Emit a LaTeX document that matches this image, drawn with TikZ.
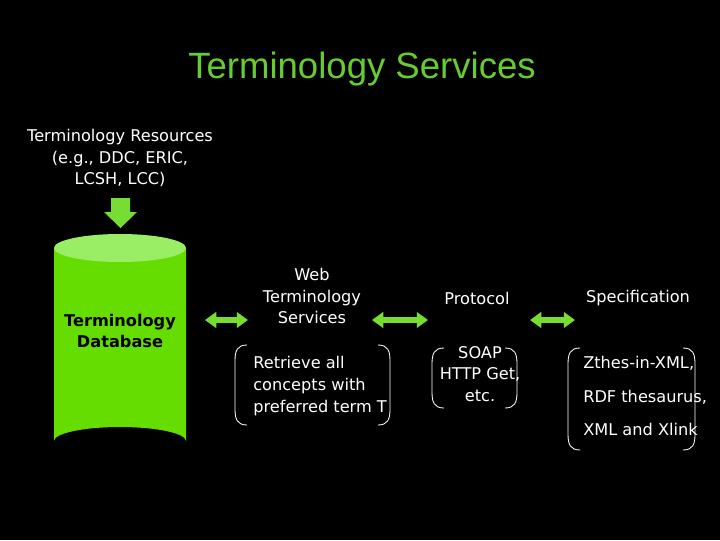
\documentclass[tikz,border=0pt]{standalone}
\usepackage{fontspec}
\setmainfont{DejaVu Sans}
\newfontfamily\titlefont{Liberation Sans}
\usetikzlibrary{arrows.meta}
\definecolor{tgreen}{HTML}{66CC33}
\definecolor{dbgreen}{HTML}{66DD00}
\definecolor{dbtop}{HTML}{99EE66}
\definecolor{arrgreen}{HTML}{77DD33}
\tikzset{
  txt/.style={text=white, font=\fontsize{11.5}{15.5}\selectfont, align=center, inner sep=0pt},
  dbl/.style={{Triangle[length=8pt,width=11pt]}-{Triangle[length=8pt,width=11pt]}, arrgreen, line width=4pt},
  brk/.style={white, line width=0.6pt}
}
\newcommand{\bracketbox}[4]{% x1,y1,x2,y2
  \draw [brk] (#1+12,#2) .. controls (#1+2,#2) and (#1,#2+6) .. (#1,#2+16) -- (#1,#4-16) .. controls (#1,#4-6) and (#1+2,#4) .. (#1+12,#4);
  \draw [brk] (#3-12,#2) .. controls (#3-2,#2) and (#3,#2+6) .. (#3,#2+16) -- (#3,#4-16) .. controls (#3,#4-6) and (#3-2,#4) .. (#3-12,#4);
}
\begin{document}
\begin{tikzpicture}[x=0.025cm, y=-0.025cm]
  % hintergrund
  \fill [black] (0,0) rectangle (720,540);
  \useasboundingbox (0,0) rectangle (720,540);
  % titel
  \node [text=tgreen, font=\titlefont\fontsize{26}{30}\selectfont] (title) at (362,69) {Terminology Services};
  % quellen
  \node [txt] (res) at (120,158) {Terminology Resources\\(e.g., DDC, ERIC,\\LCSH, LCC)};
  \fill [arrgreen] (111,198) -- (130,198) -- (130,212) -- (137,212) -- (120.5,228) -- (104,212) -- (111,212) -- cycle;
  % datenbank
  \fill [dbgreen] (54,248) -- (54,441) arc [start angle=180, end angle=360, x radius=66, y radius=14] -- (186,248) -- cycle;
  \fill [dbtop] (120,248) ellipse [x radius=66, y radius=14];
  \node [txt, text=black, font=\bfseries\fontsize{11.5}{15.5}\selectfont] (db) at (120,331) {Terminology\\Database};
  % spalten
  \node [txt] (web) at (312,296) {Web\\Terminology\\Services};
  \node [txt] (proto) at (477,298) {Protocol};
  \node [txt] (spec) at (638,298) {Specification};
  \coordinate (a1) at (205,320); \coordinate (a2) at (248,320);
  \coordinate (b1) at (372,320); \coordinate (b2) at (428,320);
  \coordinate (c1) at (530,320); \coordinate (c2) at (575,320);
  \draw [dbl] (a1) -- (a2);
  \draw [dbl] (b1) -- (b2);
  \draw [dbl] (c1) -- (c2);
  % klammern
  \bracketbox{235}{345}{390}{425}
  \node [txt, align=left, anchor=west] (query) at (253,386) {Retrieve all\\concepts with\\preferred term T};
  \bracketbox{432}{348}{517}{408}
  \node [txt] (soap) at (480,374) {SOAP\\HTTP Get,\\etc.};
  \bracketbox{568}{348}{695}{450}
  \node [txt, align=left, anchor=west, font=\fontsize{11.5}{23.5}\selectfont] (fmt) at (583,396) {Zthes-in-XML,\\RDF thesaurus,\\XML and Xlink};
\end{tikzpicture}
\end{document}
